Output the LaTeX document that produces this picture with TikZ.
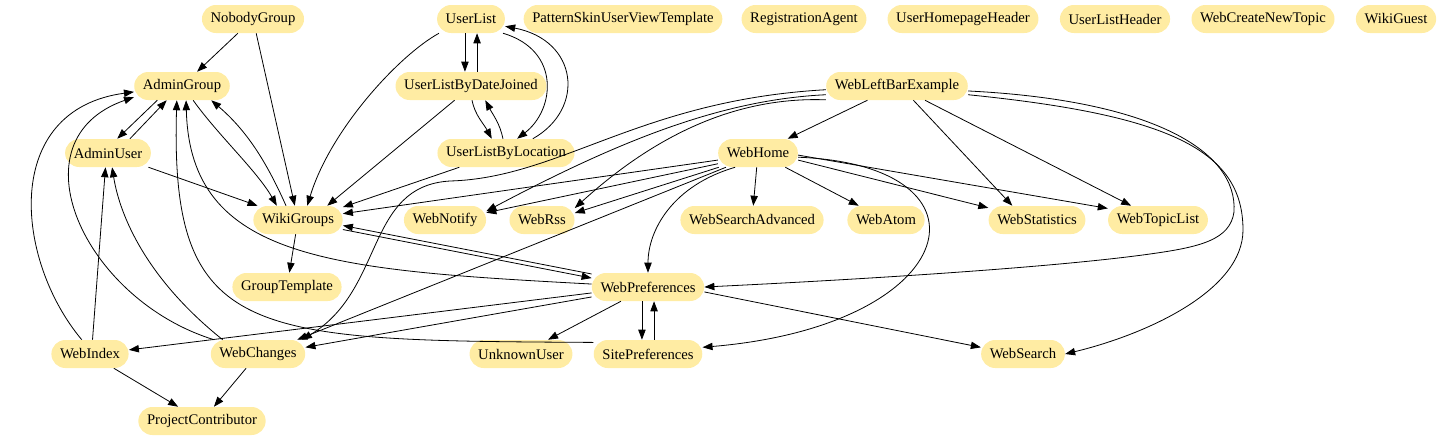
\documentclass[tikz,border=0pt]{standalone}
\usepackage{fontspec}
\setmainfont{Liberation Serif}
\usetikzlibrary{arrows.meta}
\definecolor{topicfill}{RGB}{255,236,163}
\tikzset{
  topic/.style={fill=topicfill, rounded corners=10.5pt, minimum height=21pt,
    inner xsep=6.5pt, inner ysep=0pt, font=\fontsize{11}{13}\selectfont},
  link/.style={->, line width=0.6pt}
}
\begin{document}
\begin{tikzpicture}[x=0.75pt, y=-0.75pt, >={Triangle[length=7.5pt,width=5.5pt]}]
\useasboundingbox (0,0) rectangle (1440,439);
\node[topic] (NobodyGroup) at (253,19) {NobodyGroup};
\node[topic] (UserList) at (471,19) {UserList};
\node[topic] (PatternSkinUserViewTemplate) at (623,19) {PatternSkinUserViewTemplate};
\node[topic] (RegistrationAgent) at (804,19) {RegistrationAgent};
\node[topic] (UserHomepageHeader) at (963,19) {UserHomepageHeader};
\node[topic] (UserListHeader) at (1115,19) {UserListHeader};
\node[topic] (WebCreateNewTopic) at (1263,19) {WebCreateNewTopic};
\node[topic] (WikiGuest) at (1396,19) {WikiGuest};
\node[topic] (AdminGroup) at (182,86) {AdminGroup};
\node[topic] (UserListByDateJoined) at (471,86) {UserListByDateJoined};
\node[topic] (WebLeftBarExample) at (897,86) {WebLeftBarExample};
\node[topic] (AdminUser) at (108,153) {AdminUser};
\node[topic] (UserListByLocation) at (506,153) {UserListByLocation};
\node[topic] (WebHome) at (758,153) {WebHome};
\node[topic] (WikiGroups) at (298,220) {WikiGroups};
\node[topic] (WebNotify) at (445,220) {WebNotify};
\node[topic] (WebRss) at (542,220) {WebRss};
\node[topic] (WebSearchAdvanced) at (752,220) {WebSearchAdvanced};
\node[topic] (WebAtom) at (886,220) {WebAtom};
\node[topic] (WebStatistics) at (1037,220) {WebStatistics};
\node[topic] (WebTopicList) at (1158,220) {WebTopicList};
\node[topic] (GroupTemplate) at (287,287) {GroupTemplate};
\node[topic] (WebPreferences) at (648,287) {WebPreferences};
\node[topic] (WebIndex) at (90,354) {WebIndex};
\node[topic] (WebChanges) at (258,354) {WebChanges};
\node[topic] (UnknownUser) at (521,354) {UnknownUser};
\node[topic] (SitePreferences) at (648,354) {SitePreferences};
\node[topic] (WebSearch) at (1023,354) {WebSearch};
\node[topic] (ProjectContributor) at (202,421) {ProjectContributor};

\draw[link] (NobodyGroup) -- (AdminGroup);
\draw[link] (NobodyGroup) -- (WikiGroups);
\draw[link] (AdminGroup.210) -- (AdminUser.57);
\draw[link] (AdminUser.33) -- (AdminGroup.223);
\draw[link] (AdminGroup.-52) .. controls +(25,35) and +(-20,-35) .. (WikiGroups.146);
\draw[link] (WikiGroups.130) .. controls +(-20,-45) and +(35,30) .. (AdminGroup.-26);
\draw[link] (AdminUser) -- (WikiGroups);
\draw[link] (WikiGroups) -- (GroupTemplate);
\draw[link] (WikiGroups.-12) -- (WebPreferences.171);
\draw[link] (WebPreferences.167) -- (WikiGroups.-7);
\draw[link] (WebIndex.80) -- (AdminUser.-100);
\draw[link] (WebIndex.120) .. controls +(-67,-80) and +(-133,18) .. (AdminGroup.187);
\draw[link] (WebIndex) -- (ProjectContributor);
\draw[link] (WebChanges.158) .. controls +(-75,-60) and +(8,50) .. (AdminUser.-74);
\draw[link] (WebChanges.162) .. controls +(-130,-40) and +(-123,43) .. (AdminGroup.193);
\draw[link] (WebChanges) -- (ProjectContributor);
\draw[link] (SitePreferences.168) .. controls +(-343,-2) and +(-7,240) .. (AdminGroup.-110);
\draw[link] (SitePreferences.67) -- (WebPreferences.-67);
\draw[link] (WebPreferences.177) .. controls +(-260,-14) and +(4,160) .. (AdminGroup.-74);
\draw[link] (WebPreferences.-113) -- (SitePreferences.113);
\draw[link] (WebPreferences) -- (UnknownUser);
\draw[link] (WebPreferences.-5) -- (WebSearch.171);
\draw[link] (WebPreferences.186) -- (WebIndex.6);
\draw[link] (WebPreferences.190) -- (WebChanges.8);
\draw[link] (UserList.-113) -- (UserListByDateJoined.113);
\draw[link] (UserListByDateJoined.67) -- (UserList.-67);
\draw[link] (UserList.-24) .. controls +(58,17) and +(38,-29) .. (UserListByLocation.52);
\draw[link] (UserListByLocation.28) .. controls +(53,-30) and +(73,14) .. (UserList.-12);
\draw[link] (UserListByDateJoined.-86) .. controls +(3,15) and +(-8,-15) .. (UserListByLocation.135);
\draw[link] (UserListByLocation.102) .. controls +(-3,-15) and +(8,15) .. (UserListByDateJoined.-45);
\draw[link] (UserList.204) .. controls +(-40,22) and +(23,-76) .. (WikiGroups.57);
\draw[link] (UserListByDateJoined.221) -- (WikiGroups.26);
\draw[link] (UserListByLocation.197) -- (WikiGroups.16);
\draw[link] (WebHome.190) -- (WikiGroups.8);
\draw[link] (WebHome.195) -- (WebNotify.10);
\draw[link] (WebHome.200) -- (WebRss.12);
\draw[link] (WebHome.204) -- (WebChanges.20);
\draw[link] (WebHome.212) .. controls +(-62,18) and +(0,-43) .. (WebPreferences.north);
\draw[link] (WebHome) -- (WebSearchAdvanced);
\draw[link] (WebHome) -- (WebAtom);
\draw[link] (WebHome.-10) -- (WebStatistics.166);
\draw[link] (WebHome.-3) -- (WebTopicList.167);
\draw[link] (WebHome.-6) .. controls +(205,8) and +(261,-22) .. (SitePreferences.7);
\draw[link] (WebLeftBarExample) -- (WebHome);
\draw[link] (WebLeftBarExample.-41) -- (WebStatistics.150);
\draw[link] (WebLeftBarExample.-27) -- (WebTopicList.152);
\draw[link] (WebLeftBarExample.183) .. controls (640,100) and (560,178) .. (450,181)
  .. controls (365,186) and (385,290) .. (WebChanges.18);
\draw[link] (WebLeftBarExample.187) .. controls +(-105,5) and +(132,-70) .. (WebNotify.12);
\draw[link] (WebLeftBarExample.191) .. controls +(-106,-4) and +(63,-57) .. (WebRss.20);
\draw[link] (WebLeftBarExample.-4) .. controls (1150,100) and (1238,150) .. (1234,212)
  .. controls (1230,240) and (1200,247) .. (1150,254)
  .. controls (1050,268) and (850,280) .. (WebPreferences.east);
\draw[link] (WebLeftBarExample.-7) .. controls (1169,115) and (1243,150) .. (1243,230)
  .. controls (1243,290) and (1148,334) .. (WebSearch.east);
\end{tikzpicture}
\end{document}
